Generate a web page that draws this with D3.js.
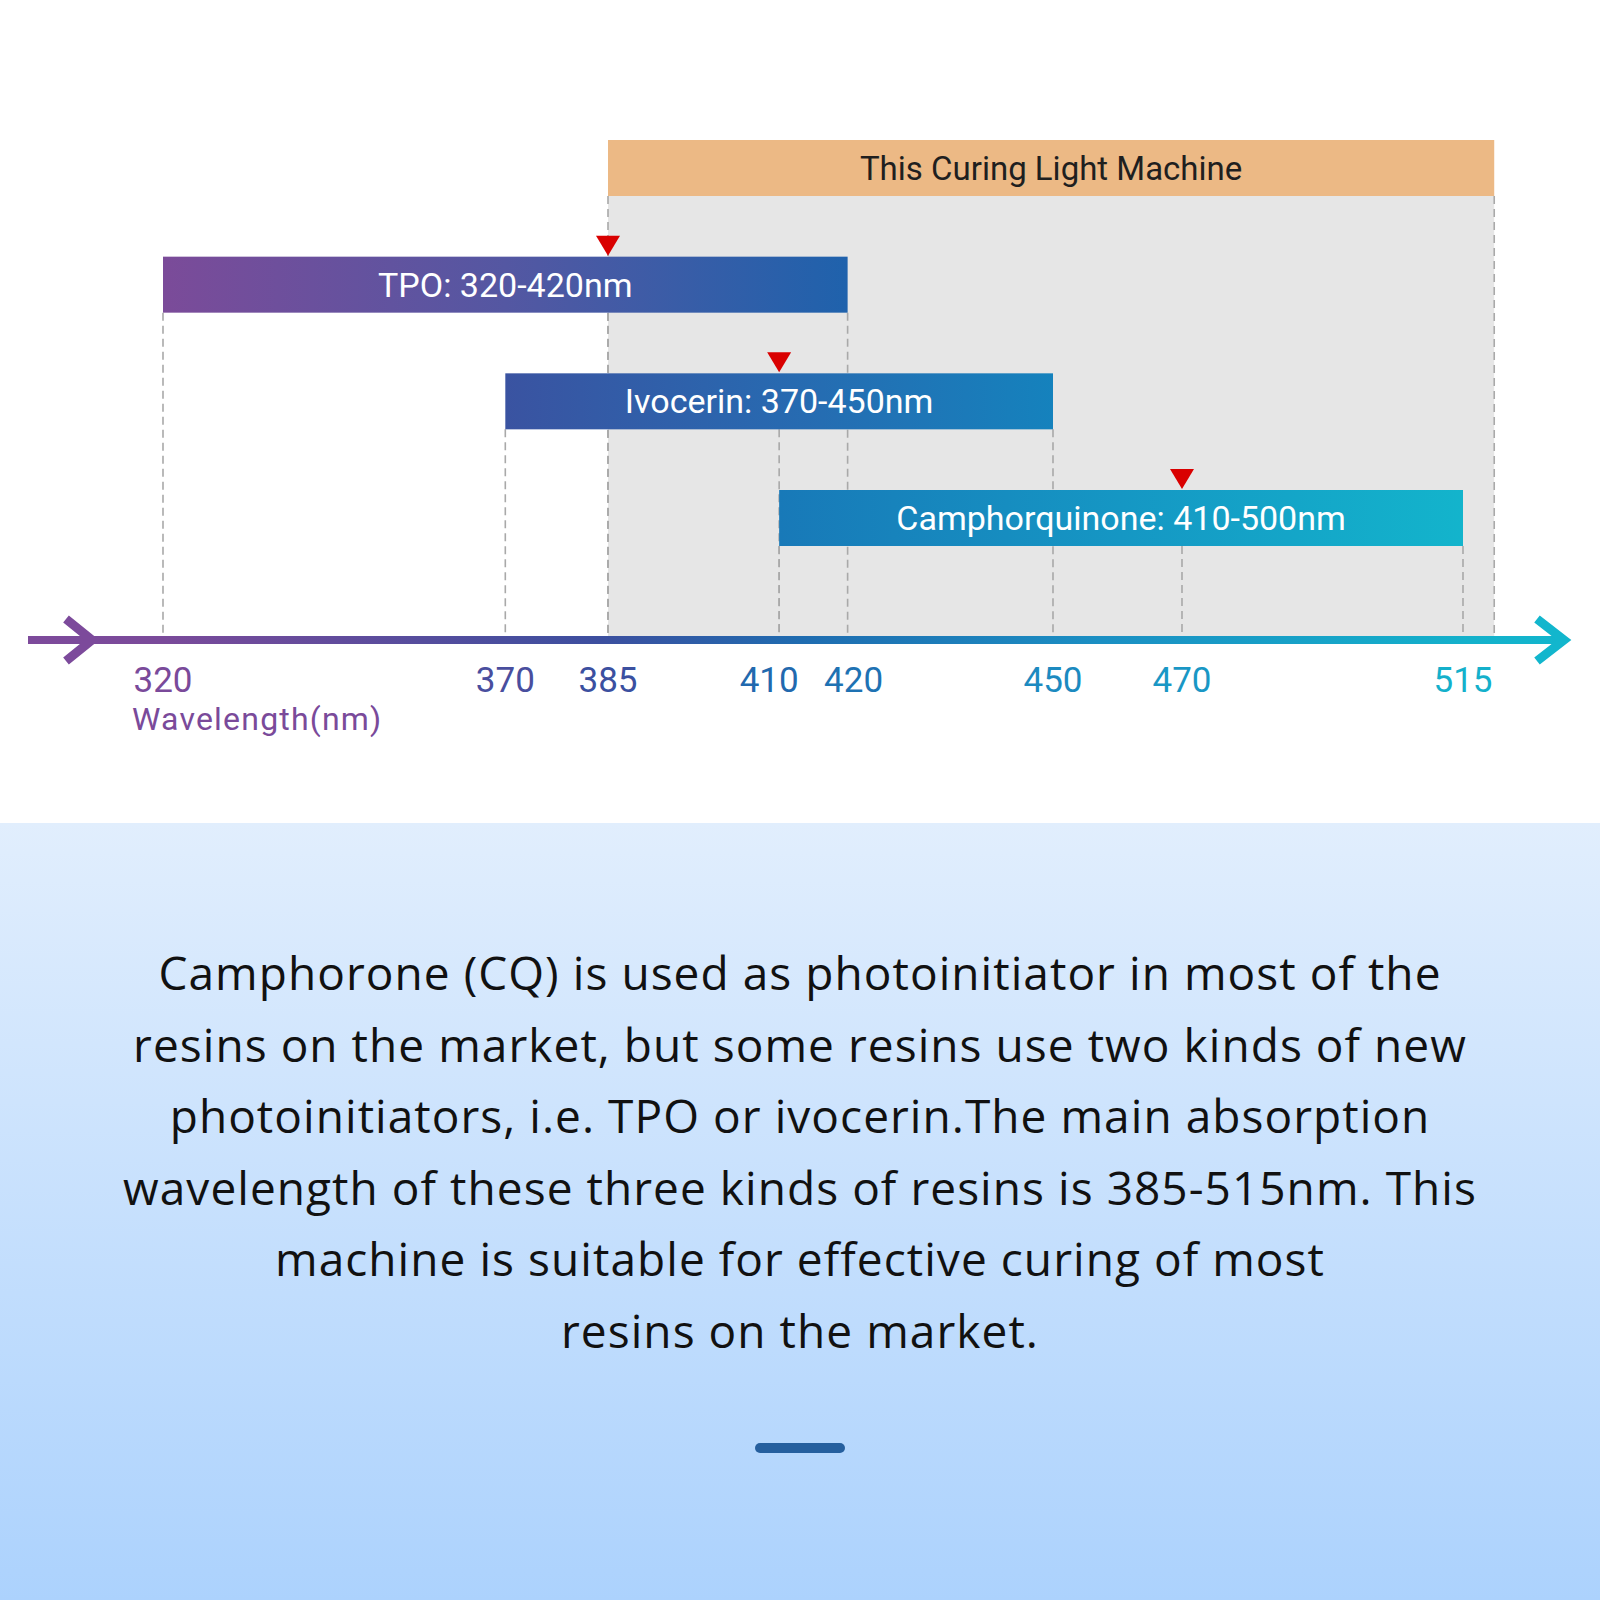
<!DOCTYPE html>
<html>
<head>
<meta charset="utf-8">
<script src="https://cdn.jsdelivr.net/npm/d3@7"></script>
<style>
  html, body { margin: 0; padding: 0; background: #fff; }
  svg { display: block; }
</style>
</head>
<body>
<script>
// ---------------- data ----------------
const tickValues = [320, 370, 385, 410, 420, 450, 470, 515];
const barNames   = ["TPO", "Ivocerin", "Camphorquinone"];
const barStarts  = [320, 370, 410];
const barEnds    = [420, 450, 515];
const barPeaks   = [385, 410, 470];
const barLabels  = ["TPO: 320-420nm", "Ivocerin: 370-450nm", "Camphorquinone: 410-500nm"];
const machineRange = [385, 520];
const machineLabel = "This Curing Light Machine";
const axisTitle = "Wavelength(nm)";
const paragraphLines = [
  "Camphorone (CQ) is used as photoinitiator in most of the",
  "resins on the market, but some resins use two kinds of new",
  "photoinitiators, i.e. TPO or ivocerin.The main absorption",
  "wavelength of these three kinds of resins is 385-515nm. This",
  "machine is suitable for effective curing of most",
  "resins on the market."
];

// ---------------- layout ----------------
const W = 1600, H = 1600;
const svg = d3.select("body").append("svg").attr("width", W).attr("height", H);
const defs = svg.append("defs");

const x = d3.scaleLinear().domain([320, 450, 470, 515]).range([163, 1053, 1182, 1463]);
const rows = ["machine", ...barNames];
const y = d3.scaleBand().domain(rows).range([140, 546]).paddingInner(0.52).paddingOuter(0);
const axisY = 640;

// colour along the axis
const axisStops = [
  {pos: 28, c: "#7d4a9b"}, {pos: 163, c: "#7a4a9a"}, {pos: 600, c: "#3c4f9f"},
  {pos: 800, c: "#1f6cb0"}, {pos: 1100, c: "#1b8fc3"}, {pos: 1470, c: "#14b1cb"}, {pos: 1570, c: "#12b6cd"}
];
const colorAt = d3.scaleLinear().domain(axisStops.map(d => d.pos)).range(axisStops.map(d => d.c))
  .interpolate(d3.interpolateRgb).clamp(true);

// backgrounds
svg.append("rect").attr("width", W).attr("height", H).attr("fill", "#ffffff");
const bg = defs.append("linearGradient").attr("id", "bgGrad").attr("x1", 0).attr("y1", 0).attr("x2", 0).attr("y2", 1);
bg.append("stop").attr("offset", "0%").attr("stop-color", "#e1eefd");
bg.append("stop").attr("offset", "100%").attr("stop-color", "#acd2fd");
svg.append("rect").attr("x", 0).attr("y", 823).attr("width", W).attr("height", H - 823).attr("fill", "url(#bgGrad)");

// machine grey region
const mx0 = x(machineRange[0]), mx1 = x(machineRange[1]);
const hdrY = y("machine"), hdrH = y.bandwidth();
svg.append("rect").attr("x", mx0).attr("y", hdrY + hdrH).attr("width", mx1 - mx0)
  .attr("height", axisY - 4 - (hdrY + hdrH)).attr("fill", "#e6e6e6");

// dashed guide lines
const dashes = svg.append("g").attr("stroke", "#a9a9a9").attr("stroke-width", 1.6).attr("stroke-dasharray", "8,5");
const guideLines = [];
machineRange.forEach(v => guideLines.push({v, y0: hdrY + hdrH}));
barNames.forEach((n, i) => {
  const yb = y(n) + y.bandwidth();
  guideLines.push({v: barStarts[i], y0: yb});
  guideLines.push({v: barEnds[i], y0: yb});
  guideLines.push({v: barPeaks[i], y0: yb});
});
dashes.selectAll("line").data(guideLines).join("line")
  .attr("x1", d => x(d.v)).attr("x2", d => x(d.v))
  .attr("y1", d => d.y0).attr("y2", axisY - 4);

// bar gradients
const barGrads = [
  ["#7b4b99", "#5457a2", "#1f62ac"],
  ["#3a53a1", "#2869b0", "#1582bd"],
  ["#1879b8", "#1597c4", "#13b4cc"]
];
barNames.forEach((n, i) => {
  const g = defs.append("linearGradient").attr("id", "bar" + i).attr("x1", 0).attr("x2", 1).attr("y1", 0).attr("y2", 0);
  barGrads[i].forEach((c, k) => g.append("stop").attr("offset", (k * 50) + "%").attr("stop-color", c));
});

const bars = svg.append("g");
bars.selectAll("rect").data(barNames).join("rect")
  .attr("x", (d, i) => x(barStarts[i]))
  .attr("y", d => y(d))
  .attr("width", (d, i) => x(barEnds[i]) - x(barStarts[i]))
  .attr("height", y.bandwidth())
  .attr("fill", (d, i) => `url(#bar${i})`);
bars.selectAll("text").data(barNames).join("text")
  .attr("x", (d, i) => (x(barStarts[i]) + x(barEnds[i])) / 2)
  .attr("y", d => y(d) + y.bandwidth() / 2)
  .attr("dy", "0.35em")
  .attr("text-anchor", "middle")
  .attr("font-family", "Roboto, 'Noto Sans', sans-serif")
  .attr("font-size", 34).attr("font-weight", 400)
  .attr("fill", "#ffffff")
  .text((d, i) => barLabels[i]);

// peak markers
svg.append("g").selectAll("path").data(barNames).join("path")
  .attr("d", (d, i) => {
    const px = x(barPeaks[i]), py = y(d);
    return `M${px - 12},${py - 21}L${px + 12},${py - 21}L${px},${py - 1}Z`;
  })
  .attr("fill", "#d90000");

// machine header
svg.append("rect").attr("x", mx0).attr("y", hdrY).attr("width", mx1 - mx0).attr("height", hdrH).attr("fill", "#ecb985");
svg.append("text").attr("x", (mx0 + mx1) / 2).attr("y", hdrY + hdrH / 2).attr("dy", "0.35em")
  .attr("text-anchor", "middle").attr("font-family", "Roboto, 'Noto Sans', sans-serif")
  .attr("font-size", 33).attr("fill", "#1f1f1f").text(machineLabel);

// axis
const axGrad = defs.append("linearGradient").attr("id", "axGrad").attr("gradientUnits", "userSpaceOnUse")
  .attr("x1", 28).attr("x2", 1570).attr("y1", 0).attr("y2", 0);
axisStops.forEach(s => axGrad.append("stop").attr("offset", ((s.pos - 28) / (1570 - 28) * 100) + "%").attr("stop-color", s.c));
svg.append("line").attr("x1", 28).attr("x2", 1564).attr("y1", axisY).attr("y2", axisY)
  .attr("stroke", "url(#axGrad)").attr("stroke-width", 8);
svg.append("path").attr("d", `M66,${axisY - 21}L92,${axisY}L66,${axisY + 21}`)
  .attr("fill", "none").attr("stroke", colorAt(70)).attr("stroke-width", 9);
svg.append("path").attr("d", `M1537,${axisY - 21}L1564,${axisY}L1537,${axisY + 21}`)
  .attr("fill", "none").attr("stroke", colorAt(1560)).attr("stroke-width", 9);

// tick labels (close pairs nudged apart)
const nudge = {410: -10, 420: 6};
svg.append("g").selectAll("text").data(tickValues).join("text")
  .attr("x", d => x(d) + (nudge[d] || 0))
  .attr("y", 692)
  .attr("text-anchor", "middle")
  .attr("font-family", "Roboto, 'Noto Sans', sans-serif")
  .attr("font-size", 35).attr("font-weight", 400)
  .attr("fill", d => colorAt(x(d)))
  .text(d => d);
svg.append("text").attr("x", 132).attr("y", 730)
  .attr("font-family", "Roboto, 'Noto Sans', sans-serif")
  .attr("font-size", 32).attr("font-weight", 400).attr("letter-spacing", 1.2)
  .attr("fill", "#7a4a9a").text(axisTitle);

// paragraph
const para = svg.append("g").selectAll("text").data(paragraphLines).join("text")
  .attr("x", 800).attr("y", (d, i) => 990 + i * 71.5)
  .attr("text-anchor", "middle")
  .attr("font-family", "'Open Sans', Lato, sans-serif")
  .attr("font-size", 46).attr("font-weight", 500)
  .attr("fill", "#111111")
  .text(d => d);
// match the first line's overall width (1282px) with letter spacing
const firstNode = para.nodes()[0];
const natural = firstNode.getComputedTextLength();
const ls = (1282 - natural) / (paragraphLines[0].length - 1);
para.attr("letter-spacing", ls);

// divider
svg.append("line").attr("x1", 760).attr("x2", 840).attr("y1", 1448).attr("y2", 1448)
  .attr("stroke", "#255f9e").attr("stroke-width", 10).attr("stroke-linecap", "round");
</script>
</body>
</html>
